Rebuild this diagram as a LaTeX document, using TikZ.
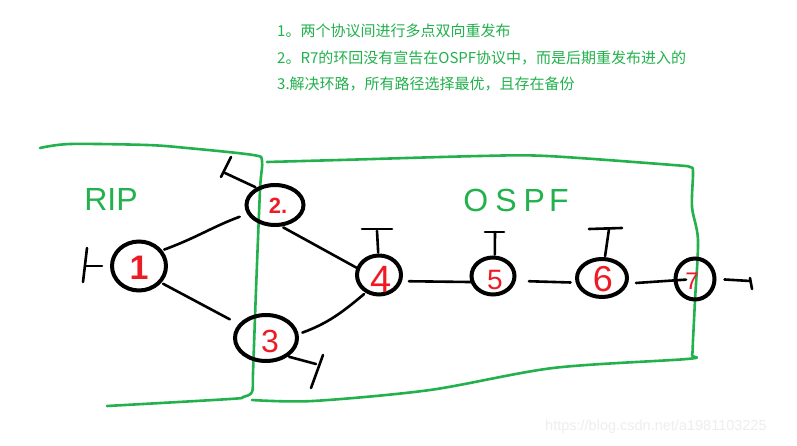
\documentclass[tikz,border=0pt]{standalone}
\usepackage{fontspec}
\setmainfont{Liberation Sans}
\newfontfamily\cjk{Noto Sans CJK SC}
\usetikzlibrary{shapes.geometric}
\definecolor{pgreen}{RGB}{34,177,76}
\definecolor{pred}{RGB}{237,28,36}
\definecolor{wmark}{RGB}{238,238,238}
\tikzset{
  router/.style={ellipse, draw=black, line width=4pt, inner sep=0pt, text=pred},
  link/.style={draw=black, line width=2.6pt, line cap=round},
  stub/.style={draw=black, line width=2.6pt, line cap=round},
  area/.style={draw=pgreen, line width=2.6pt, line cap=round, line join=round},
  note/.style={anchor=base west, text=pgreen, font=\cjk\fontsize{15}{18}\selectfont, inner sep=0pt},
  hand/.style={text=pgreen, inner sep=0pt},
}
\begin{document}
\begin{tikzpicture}[x=1pt,y=-1pt]
\useasboundingbox[fill=white] (0,0) rectangle (797,446);

% notes
\node[note] (n1) at (277,37) {1。两个协议间进行多点双向重发布};
\node[note] (n2) at (277,64) {2。R7的环回没有宣告在OSPF协议中，而是后期重发布进入的};
\node[note] (n3) at (277,90) {3.解决环路，所有路径选择最优，且存在备份};

% areas
\draw[area] plot[smooth, tension=0.5] coordinates {(40,148) (70,144) (147,145) (187,148) (253,155) (262,161) (260,190) (256,290) (253,373) (252,392) (243,397) (230,399) (107,406)};
\draw[area] plot[smooth, tension=0.5] coordinates {(267,162) (340,160) (480,156) (547,156) (673,165) (690,167) (693,172) (692,207) (698,240) (695,300) (693,340) (692,355) (687,359) (553,368) (430,390) (313,401) (252,400)};

\node[hand, font=\fontsize{32}{32}\selectfont] (rip) at (111,199) {RIP};
\node[hand, font=\fontsize{32}{32}\selectfont] (ospf) at (516,200) {O\hspace{7pt}S\hspace{7pt}P\hspace{4pt}F};

% routers
\node[router, minimum width=54pt, minimum height=49pt] (r1) at (139,266) {};
\node[router, minimum width=57pt, minimum height=40pt] (r2) at (275,205) {};
\node[router, minimum width=62pt, minimum height=46pt] (r3) at (266,338) {};
\node[router, minimum width=44pt, minimum height=39pt] (r4) at (379,275) {};
\node[router, minimum width=43pt, minimum height=37pt] (r5) at (493,276) {};
\node[router, minimum width=50pt, minimum height=38pt] (r6) at (602,278) {};
\node[router, minimum width=39pt, minimum height=41pt] (r7) at (695,279) {};

\node[text=pred, font=\bfseries\fontsize{34}{34}\selectfont, inner sep=0pt] (l1) at (139,268) {1};
\node[text=pred, font=\bfseries\fontsize{22}{22}\selectfont, inner sep=0pt] (l2) at (278,206) {2.};
\node[text=pred, font=\fontsize{32}{32}\selectfont, inner sep=0pt] (l3) at (270,341) {3};
\node[text=pred, font=\fontsize{38}{38}\selectfont, inner sep=0pt] (l4) at (381,279) {4};
\node[text=pred, font=\fontsize{28}{28}\selectfont, inner sep=0pt] (l5) at (495,280) {5};
\node[text=pred, font=\fontsize{36}{36}\selectfont, inner sep=0pt] (l6) at (603,279) {6};
\node[text=pred, font=\fontsize{24}{24}\selectfont, inner sep=0pt] (l7) at (692,281) {7};

% links
\draw[link, shorten <=2pt, shorten >=8pt] (r1.34) to[out=20,in=200] (r2.198);
\draw[link, shorten <=2pt, shorten >=10pt] (r1.-37) -- (r3.153);
\draw[link, shorten <=2pt, shorten >=0pt] (r2.-73) -- (r4.162);
\draw[link, shorten <=4pt, shorten >=2pt] (r3.7) to[out=20,in=220] (r4.233);
\draw[link, shorten <=7pt, shorten >=-1pt] (r4.-15) -- (r5.195);
\draw[link, shorten <=13pt, shorten >=5pt] (r5.-12) -- (r6.190);
\draw[link, shorten <=8pt, shorten >=9pt] (r6.-12) -- (r7.center);

% stubs
\coordinate (t1) at (85,266);
\coordinate (t2) at (225,173);
\coordinate (t3) at (316,364);
\coordinate (t4) at (377,231);
\coordinate (t5) at (495,232);
\coordinate (t6) at (609,229);
\coordinate (t7) at (750,281);
\draw[stub, shorten <=8pt] (r1.west) -- (t1);
\draw[stub] (87,248) -- (83,282);
\draw[stub, shorten <=1pt] (r2.137) -- (t2);
\draw[stub] (221,177) -- (231,157);
\draw[stub, shorten <=1pt] (r3.-40) -- (t3);
\draw[stub] (323,355) -- (311,388);
\draw[stub, shorten <=1pt] (r4.92) -- (t4);
\draw[stub] (362,229) -- (392,229);
\draw[stub, shorten <=1pt] (r5.85) -- (t5);
\draw[stub] (485,232) -- (504,232);
\draw[stub, shorten <=1pt] (r6.82) -- (t6);
\draw[stub] (589,229) -- (622,228);
\draw[stub, shorten <=8pt] (r7.east) -- (t7);
\draw[stub] (750,278) -- (752,289);

% watermark
\node[anchor=west, text=wmark, font=\fontsize{14.5}{16}\selectfont, inner sep=0pt] (wm) at (545,427) {https://blog.csdn.net/a1981103225};
\end{tikzpicture}
\end{document}
